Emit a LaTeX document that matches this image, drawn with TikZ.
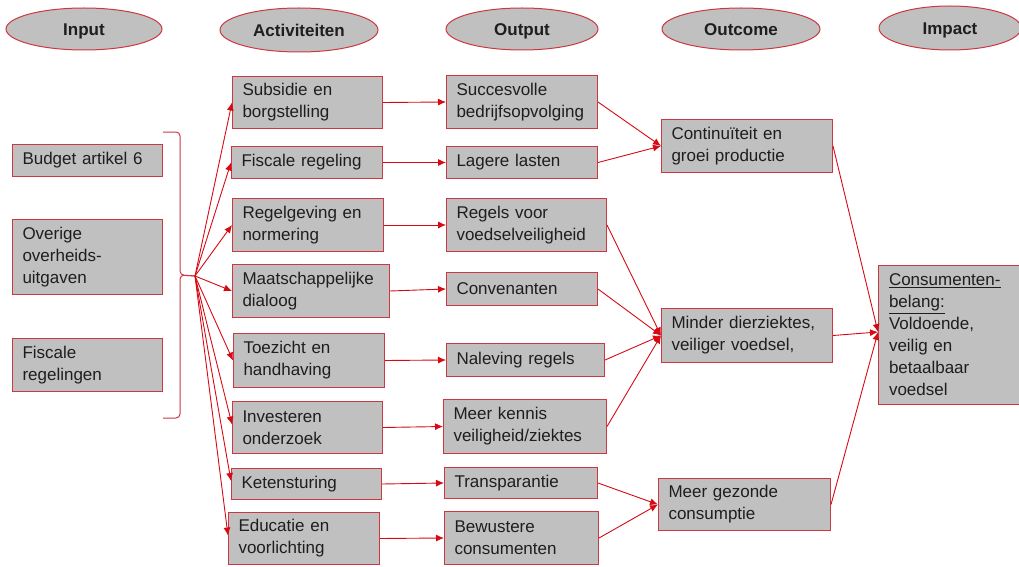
\documentclass[tikz,border=0pt]{standalone}
\usepackage{fontspec}
\setmainfont{Liberation Sans}
\usetikzlibrary{arrows.meta,shapes.geometric,calc}
\definecolor{boxfill}{RGB}{192,192,192}
\definecolor{boxline}{RGB}{205,55,65}
\definecolor{arrowred}{RGB}{215,10,20}
\definecolor{txt}{RGB}{30,30,30}
\begin{document}
\begin{tikzpicture}[x=1pt,y=-1pt,
  hdr/.style={ellipse, draw=boxline, fill=boxfill, line width=1pt, inner sep=0pt,
    text height=12.3pt, text depth=0pt,
    font=\fontsize{17}{22}\selectfont\bfseries, text=txt},
  box/.style={draw=boxline, fill=boxfill, line width=1pt, anchor=north west,
    inner xsep=10pt, inner ysep=0pt, align=left, text=txt,
    font=\fontsize{17}{22}\selectfont},
  arr/.style={draw=arrowred, line width=0.9pt, -{Latex[length=8pt,width=7pt]}},
  brace/.style={draw=boxline, line width=1pt, rounded corners=4pt}
]
\useasboundingbox (0,0) rectangle (1019,567);
% headers
\node[hdr, minimum width=156pt, minimum height=42pt] (hin) at (84,29) {Input};
\node[hdr, minimum width=158pt, minimum height=44pt] (hact) at (299,30) {Activiteiten};
\node[hdr, minimum width=152pt, minimum height=42pt] (hout) at (522,29) {Output};
\node[hdr, minimum width=158pt, minimum height=42pt] (hoc) at (741,29) {Outcome};
\node[hdr, minimum width=142pt, minimum height=44pt] (himp) at (950,28) {Impact};
% input
\node[box, minimum width=150pt, minimum height=32pt, text width=130pt] (in1) at (12,144) {Budget artikel 6};
\node[box, minimum width=150pt, minimum height=75pt, text width=130pt] (in2) at (12,219) {Overige\\overheids-\\uitgaven};
\node[box, minimum width=150pt, minimum height=53pt, text width=130pt] (in3) at (12,338) {Fiscale\\regelingen};
% activities
\node[box, minimum width=150pt, minimum height=52pt, text width=130pt] (a1) at (232,76) {Subsidie en\\borgstelling};
\node[box, minimum width=151pt, minimum height=32pt, text width=131pt] (a2) at (231,146) {Fiscale regeling};
\node[box, minimum width=151pt, minimum height=53pt, text width=131pt] (a3) at (232,198) {Regelgeving en\\normering};
\node[box, minimum width=157pt, minimum height=53pt, text width=137pt] (a4) at (232,264) {Maatschappelijke\\dialoog};
\node[box, minimum width=151pt, minimum height=54pt, text width=131pt] (a5) at (233,333) {Toezicht en\\handhaving};
\node[box, minimum width=150pt, minimum height=52pt, text width=130pt] (a6) at (232,401) {Investeren\\onderzoek};
\node[box, minimum width=150pt, minimum height=31pt, text width=130pt] (a7) at (231,468) {Ketensturing};
\node[box, minimum width=151pt, minimum height=52pt, text width=131pt] (a8) at (228,512) {Educatie en\\voorlichting};
% outputs
\node[box, minimum width=151pt, minimum height=53pt, text width=131pt] (o1) at (446,75) {Succesvolle\\bedrijfsopvolging};
\node[box, minimum width=151pt, minimum height=32pt, text width=131pt] (o2) at (446,146) {Lagere lasten};
\node[box, minimum width=160pt, minimum height=53pt, text width=140pt] (o3) at (446,198) {Regels voor\\voedselveiligheid};
\node[box, minimum width=151pt, minimum height=33pt, text width=131pt] (o4) at (446,272) {Convenanten};
\node[box, minimum width=158pt, minimum height=33pt, text width=138pt] (o5) at (446,343) {Naleving regels};
\node[box, minimum width=163pt, minimum height=54pt, text width=143pt] (o6) at (443,399) {Meer kennis\\veiligheid/ziektes};
\node[box, minimum width=153pt, minimum height=31pt, text width=133pt] (o7) at (444,467) {Transparantie};
\node[box, minimum width=154pt, minimum height=53pt, text width=134pt] (o8) at (444,511) {Bewustere\\consumenten};
% outcomes
\node[box, minimum width=171pt, minimum height=53pt, text width=151pt] (c1) at (661,119) {Continuïteit en\\groei productie};
\node[box, minimum width=171pt, minimum height=54pt, text width=151pt] (c2) at (661,308) {Minder dierziektes,\\veiliger voedsel,};
\node[box, minimum width=172pt, minimum height=52pt, text width=152pt] (c3) at (658,478) {Meer gezonde\\consumptie};
% impact
\node[box, minimum width=141pt, minimum height=139pt, text width=120pt, inner xsep=10.5pt] (imp) at (878,265) {\underline{Consumenten-}\\\underline{belang:}\\Voldoende,\\veilig en\\betaalbaar\\voedsel};
% brace
\coordinate (fan) at (195,276);
\draw[brace] (163,132) -- (180,132) -- (180,275) -- (fan);
\draw[brace] (fan) -- (180,275) -- (180,418) -- (163,418);
% fan arrows
\foreach \n in {a1,a2,a3,a4,a5} \draw[arr] (fan) -- (\n.west);
\foreach \n in {a6,a7,a8} \draw[arr] (fan) -- ([yshift=3pt]\n.west);
% activity -> output
\draw[arr] (a1.east) -- (o1.west);
\draw[arr] (a2.east) -- (o2.west);
\draw[arr] (a3.east) -- (o3.west);
\draw[arr] (a4.east) -- (o4.west);
\draw[arr] (a5.east) -- (o5.west);
\draw[arr] (a6.east) -- (o6.west);
\draw[arr] (a7.east) -- (o7.west);
\draw[arr] (a8.east) -- (o8.west);
% output -> outcome
\draw[arr] (o1.east) -- (c1.west);
\draw[arr] (o2.east) -- (c1.west);
\draw[arr] (o3.east) -- (c2.west);
\draw[arr] (o4.east) -- (c2.west);
\draw[arr] (o5.east) -- (c2.west);
\draw[arr] (o6.east) -- (c2.west);
\draw[arr] (o7.east) -- (c3.west);
\draw[arr] (o8.east) -- (c3.west);
% outcome -> impact
\draw[arr] (c1.east) -- ([yshift=3pt]imp.west);
\draw[arr] (c2.east) -- ([yshift=3pt]imp.west);
\draw[arr] (c3.east) -- ([yshift=3pt]imp.west);
\end{tikzpicture}
\end{document}
